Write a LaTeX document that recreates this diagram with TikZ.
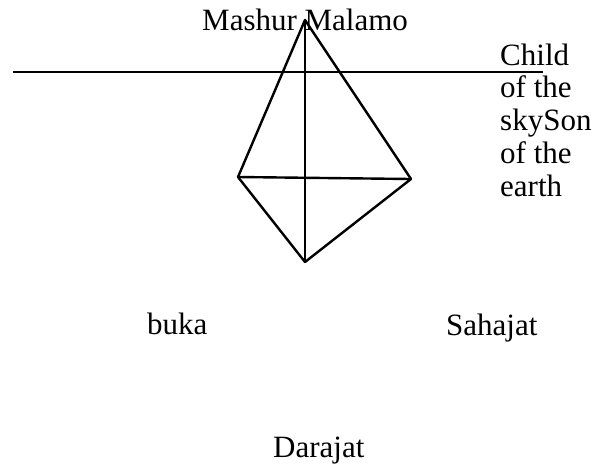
\documentclass[tikz,border=0pt]{standalone}
\usepackage{fontspec}
\setmainfont{Liberation Serif}
\begin{document}
\begin{tikzpicture}[x=1pt,y=-1pt,
  lbl/.style={inner sep=0pt,anchor=base west,font=\fontsize{31}{32.7}\selectfont},
  kite/.style={line width=2.4pt,line join=round},
  thin/.style={line width=1.3pt}]
\useasboundingbox (0,0) rectangle (597,467);
\coordinate (T) at (305,20);
\coordinate (L) at (238,177);
\coordinate (R) at (411,179);
\coordinate (B) at (305,262);
\coordinate (H1) at (13,72);
\coordinate (H2) at (543,72);
\draw[thin] (H1) -- (H2);
\draw[kite] (T) -- (L) -- (B) -- (R) -- cycle;
\draw[kite] (T) -- (B);
\draw[kite] (L) -- (R);
\node[lbl] (mm) at (202,30) {Mashur Malamo};
\node[lbl,align=left] (cs) at (500,196) {Child\\of the\\skySon\\of the\\earth};
\node[lbl] (bu) at (147,334) {buka};
\node[lbl] (sa) at (446,335) {Sahajat};
\node[lbl] (da) at (273,457) {Darajat};
\end{tikzpicture}
\end{document}
